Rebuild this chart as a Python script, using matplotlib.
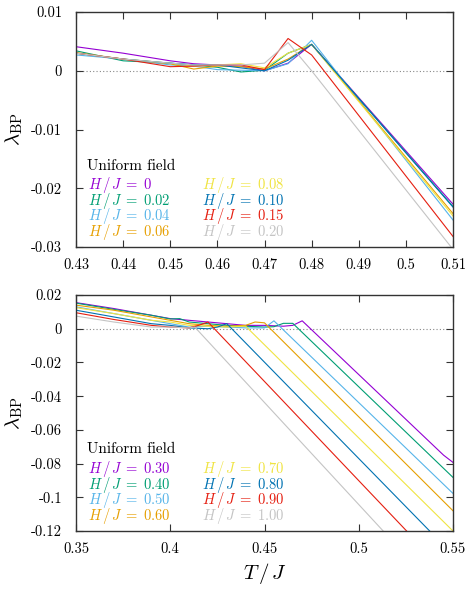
import matplotlib
matplotlib.use("Agg")
import matplotlib.pyplot as plt
from matplotlib.ticker import MultipleLocator, FuncFormatter

plt.rcParams['font.family'] = 'cmr10'
plt.rcParams['mathtext.fontset'] = 'cm'
plt.rcParams['axes.unicode_minus'] = False
plt.rcParams['axes.formatter.use_mathtext'] = False

colors = ['#9400d3', '#009e73', '#56b4e9', '#e69f00',
          '#f0e442', '#0072b2', '#e51e10', '#c4c4c4']

# top panel: small fields
H_top = ['0', '0.02', '0.04', '0.06', '0.08', '0.10', '0.15', '0.20']
T_top = [0.43, 0.44, 0.45, 0.455, 0.46, 0.465, 0.47, 0.475, 0.48, 0.51]
lam_top = [
    [0.0041, 0.0030, 0.0017, 0.0012, 0.0010, 0.0008, 0.0000, 0.0013, 0.0045, -0.0227],
    [0.0034, 0.0017, 0.0013, 0.0010, 0.0006, -0.0002, 0.0001, 0.0030, 0.0045, -0.0231],
    [0.0027, 0.0020, 0.0010, 0.0008, 0.0002, 0.0001, 0.0000, 0.0012, 0.0052, -0.0254],
    [0.0031, 0.0020, 0.0012, 0.0003, 0.0008, 0.0007, 0.0003, 0.0020, 0.0045, -0.0243],
    [0.0030, 0.0020, 0.0013, 0.0008, 0.0010, 0.0012, 0.0005, 0.0030, 0.0045, -0.0247],
    [0.0030, 0.0020, 0.0013, 0.0010, 0.0010, 0.0005, 0.0000, 0.0018, 0.0045, -0.0232],
    [0.0030, 0.0020, 0.0007, 0.0008, 0.0010, 0.0010, 0.0002, 0.0055, 0.0027, -0.0282],
    [0.0030, 0.0020, 0.0013, 0.0010, 0.0010, 0.0010, 0.0013, 0.0048, 0.0000, -0.0304],
]

# bottom panel: larger fields
H_bot = ['0.30', '0.40', '0.50', '0.60', '0.70', '0.80', '0.90', '1.00']
T_bot = [
    [0.35, 0.37, 0.39, 0.40, 0.41, 0.42, 0.43, 0.44, 0.45, 0.46, 0.465, 0.47, 0.545, 0.55],
    [0.35, 0.37, 0.39, 0.40, 0.405, 0.41, 0.42, 0.43, 0.44, 0.45, 0.455, 0.46, 0.465, 0.55],
    [0.35, 0.37, 0.39, 0.40, 0.41, 0.42, 0.43, 0.44, 0.45, 0.455, 0.55],
    [0.35, 0.37, 0.39, 0.40, 0.41, 0.42, 0.43, 0.44, 0.445, 0.45, 0.55],
    [0.35, 0.37, 0.39, 0.40, 0.41, 0.42, 0.43, 0.44, 0.55],
    [0.35, 0.37, 0.39, 0.40, 0.41, 0.42, 0.425, 0.43, 0.54],
    [0.35, 0.37, 0.39, 0.40, 0.41, 0.415, 0.42, 0.53],
    [0.35, 0.37, 0.39, 0.40, 0.41, 0.413, 0.52],
]
lam_bot = [
    [0.0155, 0.0120, 0.0080, 0.0060, 0.0050, 0.0040, 0.0030, 0.0020, 0.0020, 0.0015, 0.0020, 0.0047, -0.0750, -0.0793],
    [0.0152, 0.0115, 0.0080, 0.0058, 0.0060, 0.0040, 0.0030, 0.0020, 0.0015, 0.0010, 0.0012, 0.0032, 0.0032, -0.0882],
    [0.0130, 0.0090, 0.0050, 0.0030, 0.0010, 0.0015, 0.0010, 0.0005, 0.0005, 0.0047, -0.0977],
    [0.0140, 0.0110, 0.0070, 0.0050, 0.0030, 0.0020, 0.0015, 0.0020, 0.0040, 0.0035, -0.1080],
    [0.0125, 0.0090, 0.0050, 0.0040, 0.0020, 0.0015, 0.0010, 0.0015, -0.1200],
    [0.0110, 0.0070, 0.0030, 0.0020, 0.0005, 0.0000, 0.0010, 0.0030, -0.1227],
    [0.0095, 0.0055, 0.0020, 0.0010, 0.0005, 0.0020, 0.0040, -0.1254],
    [0.0075, 0.0040, 0.0010, 0.0010, 0.0005, 0.0010, -0.1285],
]

fig = plt.figure(figsize=(4.73, 5.91), dpi=100)
ax1 = fig.add_axes([0.1607, 0.582, 0.797, 0.3976])
ax2 = fig.add_axes([0.1607, 0.1015, 0.797, 0.3993])

fmt = FuncFormatter(lambda v, p: '%g' % round(v, 6))


def style(ax):
    ax.axhline(0, color='#888888', lw=0.8, ls=(0, (1, 2)), zorder=0)
    ax.tick_params(direction='in', top=True, right=True, length=5,
                   width=0.8, labelsize=10.5, color='#333333')
    ax.tick_params(axis='x', pad=8)
    ax.tick_params(axis='y', pad=10)
    for s in ax.spines.values():
        s.set_linewidth(1.0)
        s.set_color('#333333')
    ax.xaxis.set_major_formatter(fmt)
    ax.yaxis.set_major_formatter(fmt)
    ax.set_ylabel(r'$\lambda_{\rm BP}$', fontsize=15, labelpad=4)


def legend(ax, labels):
    ax.text(0.03, 0.345, 'Uniform field', transform=ax.transAxes,
            fontsize=11, va='center', ha='left')
    rows = [0.262, 0.196, 0.13, 0.064]
    for i, (lab, c) in enumerate(zip(labels, colors)):
        x = 0.032 if i < 4 else 0.333
        ax.text(x, rows[i % 4], r'$H\,/\,J\;=\;%s$' % lab,
                transform=ax.transAxes, color=c, fontsize=10.5,
                va='center', ha='left')


for ys, c in zip(lam_top, colors):
    ax1.plot(T_top, ys, color=c, lw=0.8)
ax1.set_xlim(0.43, 0.51)
ax1.set_ylim(-0.03, 0.01)
ax1.xaxis.set_major_locator(MultipleLocator(0.01))
ax1.yaxis.set_major_locator(MultipleLocator(0.01))
style(ax1)
legend(ax1, H_top)

for xs, ys, c in zip(T_bot, lam_bot, colors):
    ax2.plot(xs, ys, color=c, lw=0.8)
ax2.set_xlim(0.35, 0.55)
ax2.set_ylim(-0.12, 0.02)
ax2.xaxis.set_major_locator(MultipleLocator(0.05))
ax2.yaxis.set_major_locator(MultipleLocator(0.02))
style(ax2)
legend(ax2, H_bot)
ax2.set_xlabel(r'$T\,/\,J$', fontsize=15, labelpad=4)

fig.savefig('out.png', dpi=100)
